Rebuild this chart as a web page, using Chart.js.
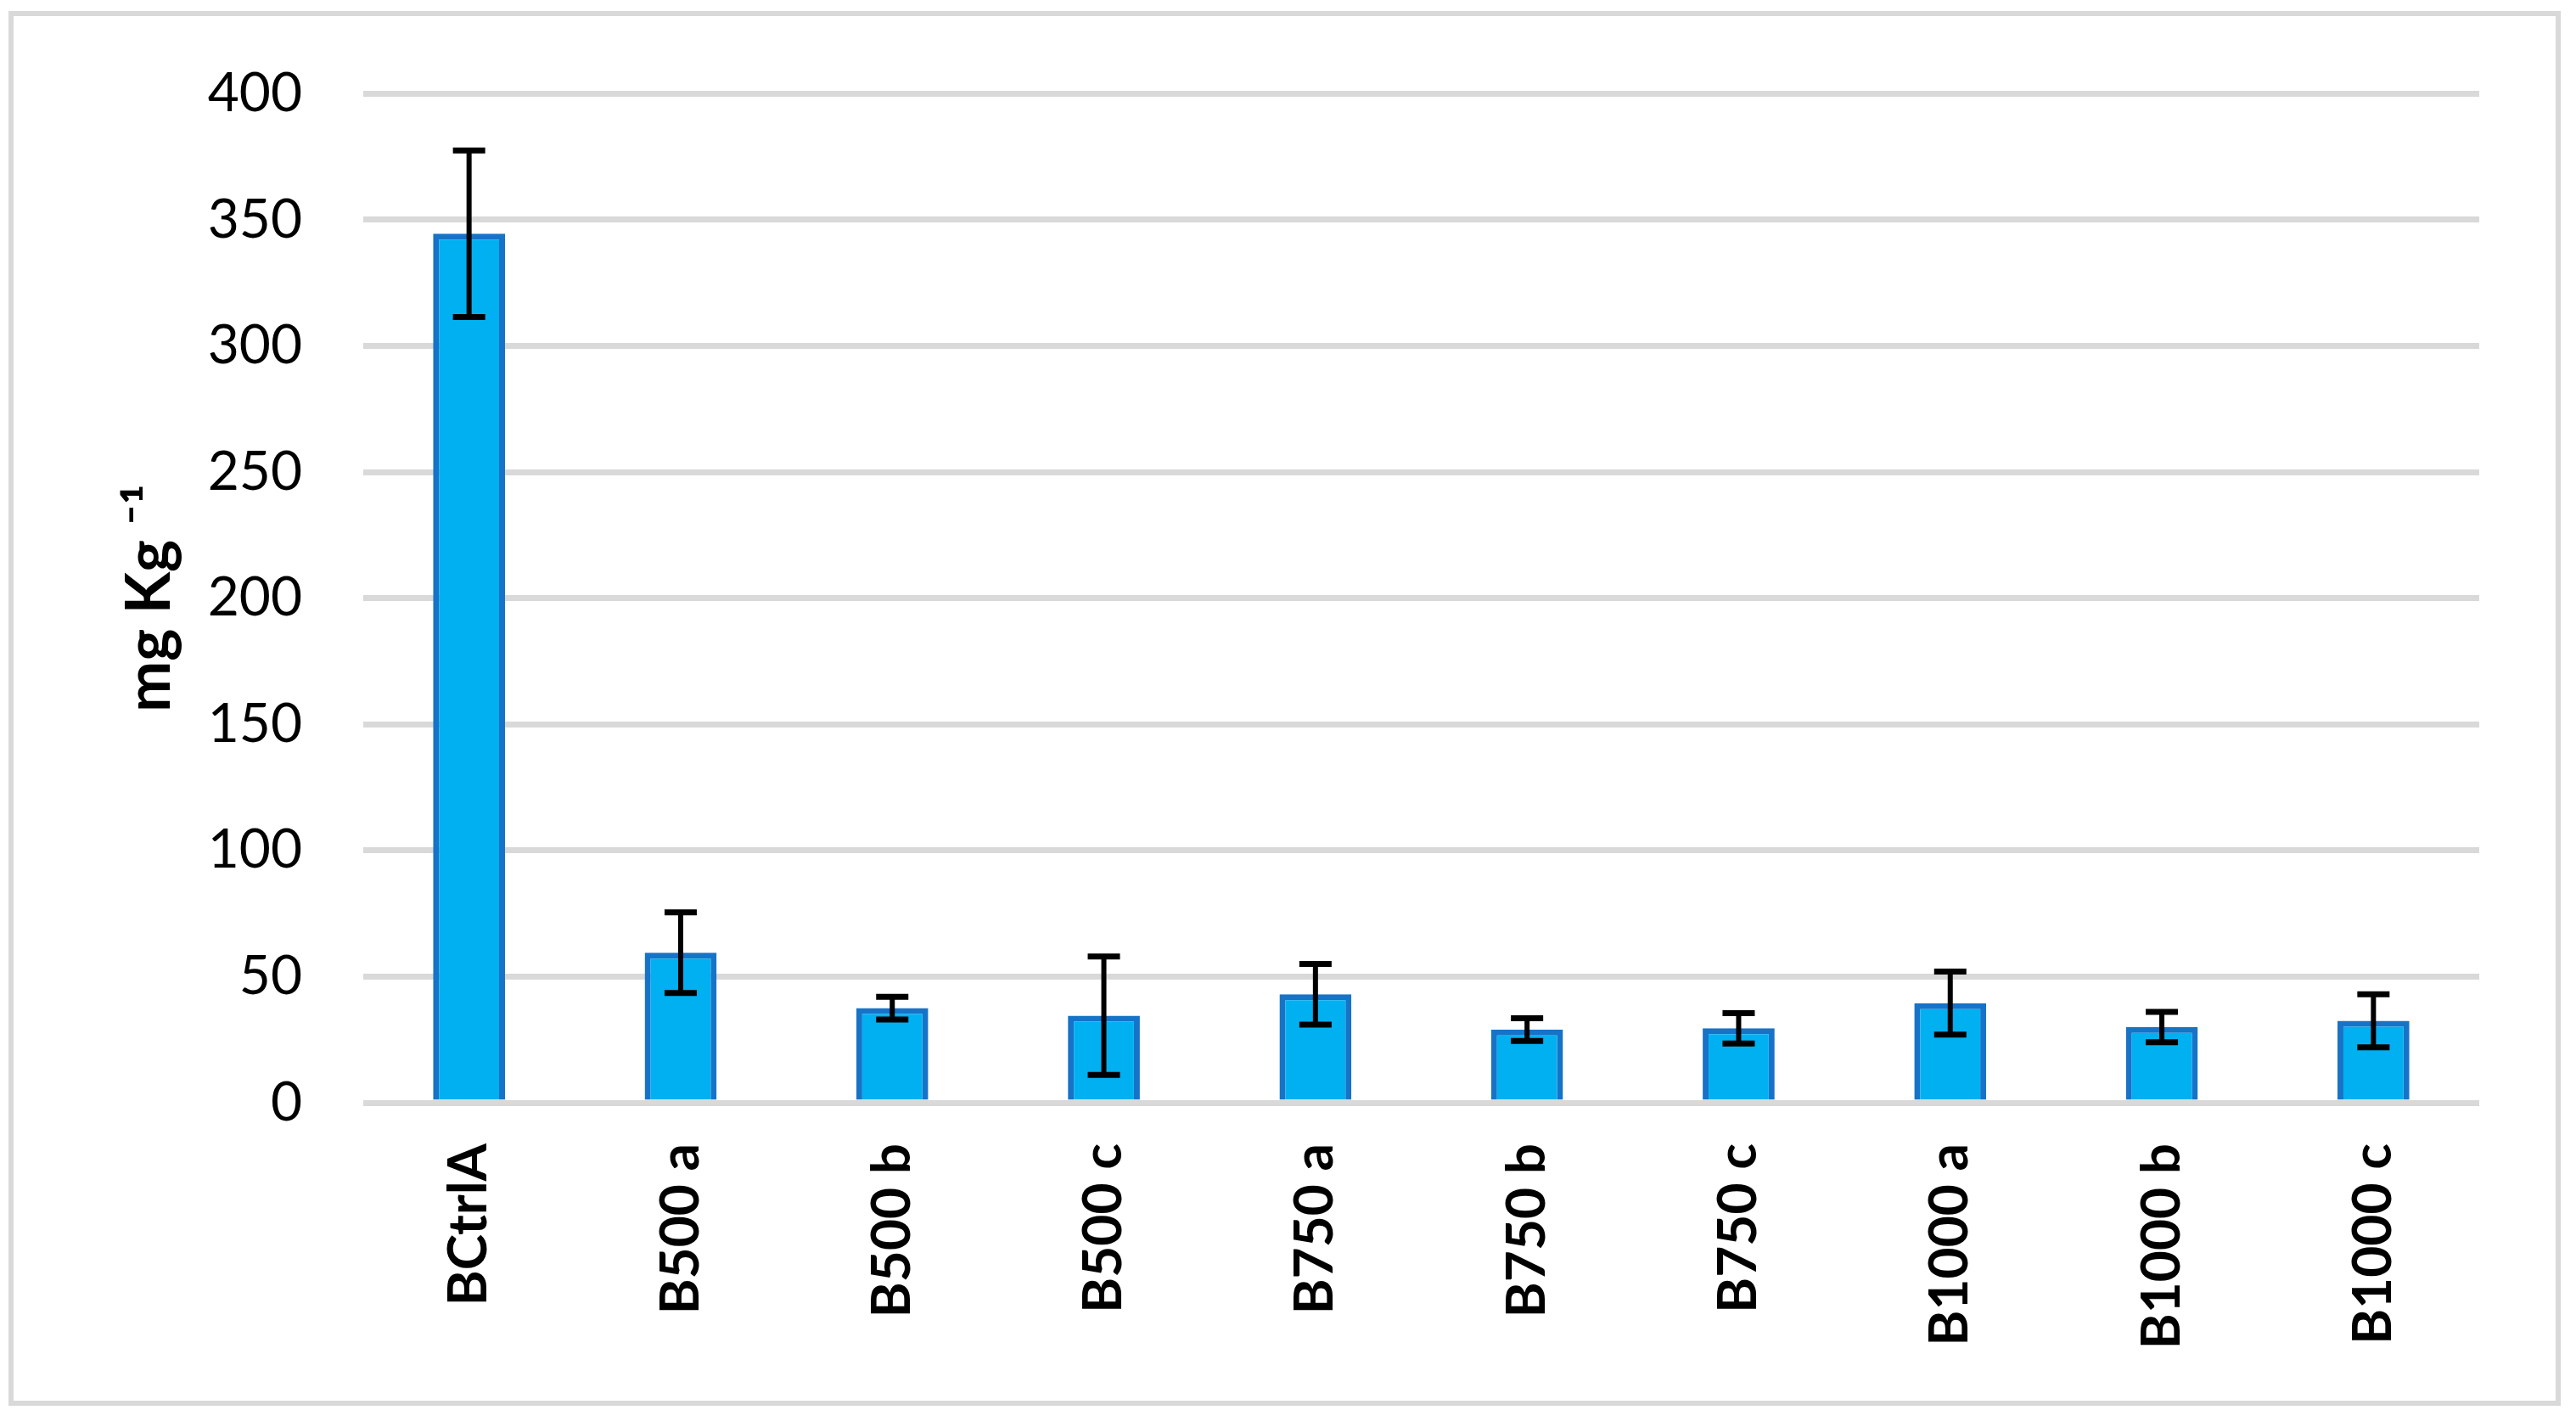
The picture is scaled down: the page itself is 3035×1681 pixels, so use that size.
<!DOCTYPE html>
<html>
<head>
<meta charset="utf-8">
<script src="https://cdn.jsdelivr.net/npm/chart.js@4/dist/chart.umd.min.js"></script>
<style>
  html, body { margin: 0; padding: 0; background: #ffffff; }
  #wrap { width: 3035px; height: 1681px; position: relative; }
</style>
</head>
<body>
<div id="wrap"><canvas id="c" width="3035" height="1681"></canvas></div>
<script>
const categories = ["BCtrlA", "B500 a", "B500 b", "B500 c", "B750 a", "B750 b", "B750 c", "B1000 a", "B1000 b", "B1000 c"];
const values = [344.5, 59.5, 37.5, 34.5, 43, 29, 29.5, 39.5, 30, 32.5];
const errors = [33, 16, 4.5, 23.5, 12, 4.5, 6, 12.5, 6, 10.5];
const yTicks = [0, 50, 100, 150, 200, 250, 300, 350, 400];
const yTitle = "mg Kg \u207B\u00B9";

const frame = {
  id: 'frame',
  beforeDraw(chart) {
    const ctx = chart.ctx;
    ctx.save();
    ctx.fillStyle = '#ffffff';
    ctx.fillRect(0, 0, chart.width, chart.height);
    ctx.strokeStyle = '#d9d9d9';
    ctx.lineWidth = 6;
    ctx.strokeRect(13, 16, 3001, 1637);
    ctx.restore();
  }
};

const errorBars = {
  id: 'errorBars',
  afterDatasetsDraw(chart) {
    const ctx = chart.ctx;
    const y = chart.scales.y;
    const meta = chart.getDatasetMeta(0);
    ctx.save();
    ctx.strokeStyle = '#000000';
    meta.data.forEach((bar, i) => {
      const v = values[i], e = errors[i];
      const yTop = y.getPixelForValue(v + e);
      const yBot = y.getPixelForValue(v - e);
      const x = bar.x;
      ctx.lineWidth = 6;
      ctx.beginPath();
      ctx.moveTo(x, yTop);
      ctx.lineTo(x, yBot);
      ctx.stroke();
      ctx.lineWidth = 7;
      ctx.beginPath();
      ctx.moveTo(x - 19, yTop);
      ctx.lineTo(x + 19, yTop);
      ctx.moveTo(x - 19, yBot);
      ctx.lineTo(x + 19, yBot);
      ctx.stroke();
    });
    ctx.restore();
  }
};

new Chart(document.getElementById('c'), {
  type: 'bar',
  data: {
    labels: categories,
    datasets: [{
      data: values,
      backgroundColor: '#00b0f0',
      borderColor: '#1673c7',
      borderWidth: 7,
      borderSkipped: 'bottom',
      barPercentage: 0.34,
      categoryPercentage: 1.0
    }]
  },
  options: {
    responsive: false,
    animation: false,
    devicePixelRatio: 1,
    layout: { padding: { top: 106, right: 114, bottom: 60, left: 0 } },
    plugins: {
      legend: { display: false },
      tooltip: { enabled: false },
      title: { display: false }
    },
    scales: {
      x: {
        grid: { display: false, drawTicks: false },
        border: { display: false },
        ticks: {
          color: '#000000',
          font: { family: 'Lato', size: 64, weight: 'bold' },
          minRotation: 90,
          maxRotation: 90,
          padding: 48,
          autoSkip: false
        },
        afterFit(scale) { scale.height = 322; }
      },
      y: {
        min: 0,
        max: 400,
        afterBuildTicks(scale) { scale.ticks = yTicks.map(v => ({ value: v })); },
        grid: { color: '#d9d9d9', lineWidth: 7, drawTicks: false },
        border: { display: false },
        ticks: {
          color: '#000000',
          font: { family: 'Lato', size: 64 },
          padding: 72
        },
        title: {
          display: true,
          text: yTitle,
          color: '#000000',
          font: { family: 'Lato', size: 72, weight: 'bold' },
          padding: { top: 134, bottom: 0 }
        },
        afterFit(scale) { scale.width = 428; }
      }
    }
  },
  plugins: [frame, errorBars]
});
</script>
</body>
</html>
